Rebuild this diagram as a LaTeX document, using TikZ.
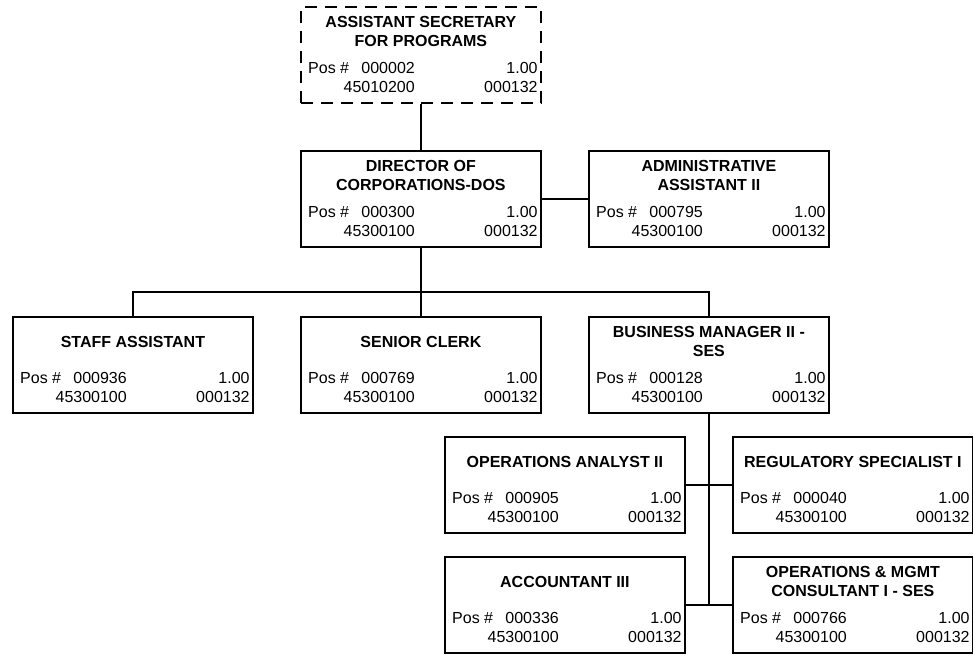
\documentclass[tikz,border=0pt]{standalone}
\usepackage{fontspec}
\setmainfont{Liberation Sans}
\tikzset{
  orgbox/.style={draw, line width=1.8pt, minimum width=240pt, minimum height=96pt, inner sep=0pt, anchor=north west},
  dashbox/.style={orgbox, dash pattern=on 12pt off 8pt},
  titletext/.style={font=\fontsize{16}{19.5}\selectfont\bfseries, align=center, inner sep=0pt},
  rowtext/.style={font=\fontsize{16}{18}\selectfont, inner sep=0pt},
  link/.style={line width=1.8pt}
}
\newcommand\orgunit[8]{%
  \node[#4] (#1) at (#2,#3) {};
  \node[titletext] (#1-t) at ([yshift=-25.5pt]#1.north) {#5};
  \node[rowtext, anchor=base west] (#1-p) at ([xshift=8pt,yshift=-67.5pt]#1.north west) {Pos \#};
  \node[rowtext, anchor=base east] (#1-n) at ([xshift=115pt,yshift=-67.5pt]#1.north west) {#6};
  \node[rowtext, anchor=base east] (#1-f) at ([xshift=-4pt,yshift=-67.5pt]#1.north east) {#7};
  \node[rowtext, anchor=base east] (#1-d) at ([xshift=115pt,yshift=-86.5pt]#1.north west) {#8};
  \node[rowtext, anchor=base east] (#1-c) at ([xshift=-4pt,yshift=-86.5pt]#1.north east) {000132};
}
\begin{document}
\begin{tikzpicture}[x=1pt,y=-1pt]
\useasboundingbox (0,0) rectangle (973,655);
\fill[white] (0,0) rectangle (973,655);
\orgunit{top}{300}{6}{dashbox}{ASSISTANT SECRETARY\\FOR PROGRAMS}{000002}{1.00}{45010200}
\orgunit{dir}{300}{150}{orgbox}{DIRECTOR OF\\CORPORATIONS-DOS}{000300}{1.00}{45300100}
\orgunit{adm}{588}{150}{orgbox}{ADMINISTRATIVE\\ASSISTANT II}{000795}{1.00}{45300100}
\orgunit{sa}{12}{316}{orgbox}{STAFF ASSISTANT}{000936}{1.00}{45300100}
\orgunit{sc}{300}{316}{orgbox}{SENIOR CLERK}{000769}{1.00}{45300100}
\orgunit{bm}{588}{316}{orgbox}{BUSINESS MANAGER II -\\SES}{000128}{1.00}{45300100}
\orgunit{oa}{444}{436}{orgbox}{OPERATIONS ANALYST II}{000905}{1.00}{45300100}
\orgunit{rs}{732}{436}{orgbox}{REGULATORY SPECIALIST I}{000040}{1.00}{45300100}
\orgunit{acc}{444}{556}{orgbox}{ACCOUNTANT III}{000336}{1.00}{45300100}
\orgunit{om}{732}{556}{orgbox}{OPERATIONS \& MGMT\\CONSULTANT I - SES}{000766}{1.00}{45300100}
\coordinate (bar) at (420,292);
\draw[link] (top.south) -- (dir.north);
\draw[link] (dir.east) -- (adm.west);
\draw[link] (dir.south) -- (sc.north);
\draw[link] (sa.north) |- (bar) -| (bm.north);
\draw[link] (bm.south) -- (bm.south |- acc.east);
\draw[link] (oa.east) -- (rs.west);
\draw[link] (acc.east) -- (om.west);
\end{tikzpicture}
\end{document}
